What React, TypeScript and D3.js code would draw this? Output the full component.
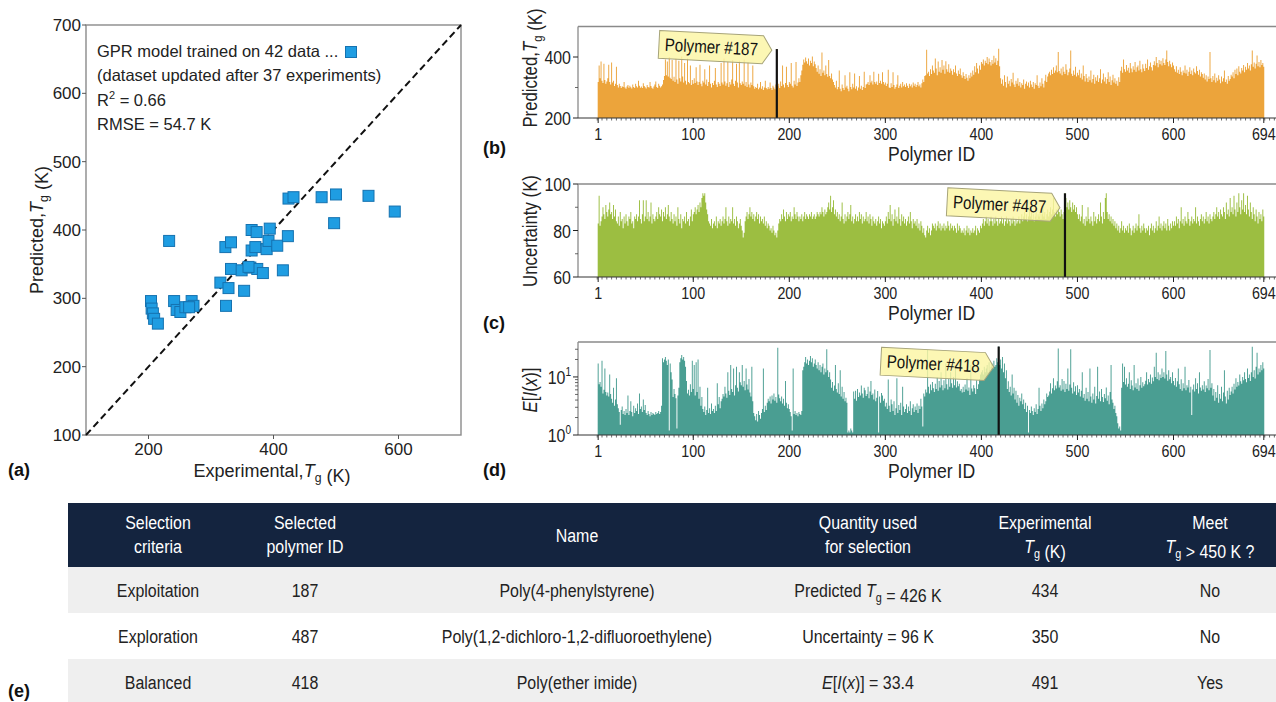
import React from "react";
import * as d3 from "d3";

// (a) parity plot: experimental vs predicted Tg (K)
const expTg = [233, 204, 205, 207, 209, 215, 241, 245, 251, 259, 269, 272, 315, 324, 328, 323, 332, 332, 349, 353, 363, 365, 373, 365, 371, 374, 383, 389, 392, 394, 406, 415, 423, 424, 432, 477, 500, 497, 552, 594, 360, 265];
const predTg = [384, 296, 285, 278, 270, 263, 296, 283, 280, 287, 296, 289, 323, 289, 315, 375, 382, 343, 341, 311, 345, 400, 397, 370, 375, 343, 337, 372, 384, 402, 377, 341, 391, 446, 448, 448, 452, 410, 450, 427, 346, 287];
const parityTicks = [100, 200, 300, 400, 500, 600, 700];
const legendLines = ["GPR model trained on 42 data ...", "(dataset updated after 37 experiments)", "R2 = 0.66", "RMSE = 54.7 K"];

// (b) predicted Tg for polymer 1..694
const predictedTg = [
  318, 372, 330, 385, 322, 315, 378, 325, 312, 320,
  330, 375, 318, 310, 382, 316, 322, 305, 312, 368,
  308, 300, 312, 305, 298, 304, 302, 318, 300, 296,
  303, 308, 299, 306, 301, 297, 310, 302, 298, 312,
  304, 300, 322, 306, 299, 303, 298, 314, 305, 301,
  297, 308, 302, 300, 318, 305, 299, 296, 303, 310,
  320, 302, 298, 312, 306, 300, 304, 310, 325, 338,
  392, 340, 385, 336, 400, 332, 328, 390, 322, 335,
  318, 395, 326, 312, 388, 330, 320, 402, 336, 316,
  380, 322, 310, 395, 318, 314, 372, 308, 325, 312,
  330, 315, 366, 320, 308, 318, 375, 312, 304, 322,
  316, 360, 310, 326, 305, 318, 372, 312, 300, 315,
  308, 322, 364, 310, 302, 318, 312, 305, 380, 316,
  310, 395, 320, 306, 314, 385, 302, 318, 310, 326,
  390, 312, 305, 322, 378, 316, 300, 388, 314, 308,
  320, 312, 392, 306, 318, 302, 384, 310, 300, 316,
  308, 372, 304, 296, 302, 298, 312, 294, 300, 318,
  296, 304, 292, 300, 322, 298, 294, 302, 296, 316,
  298, 292, 306, 300, 294, 310, 426, 304, 312, 298,
  320, 305, 372, 310, 300, 315, 368, 308, 302, 318,
  312, 380, 306, 300, 322, 310, 384, 305, 316, 330,
  318, 340, 356, 375, 392, 382, 398, 386, 378, 395,
  372, 388, 380, 402, 370, 385, 376, 364, 352, 372,
  345, 360, 338, 415, 348, 356, 340, 372, 344, 335,
  390, 338, 330, 346, 326, 318, 308, 300, 322, 294,
  302, 356, 296, 288, 310, 298, 292, 340, 300, 306,
  296, 288, 350, 302, 294, 312, 300, 346, 296, 304,
  290, 300, 338, 296, 306, 292, 302, 352, 298, 310,
  312, 318, 308, 340, 316, 322, 310, 352, 318, 312,
  320, 308, 345, 315, 322, 312, 350, 318, 310, 316,
  305, 312, 358, 300, 298, 314, 302, 350, 308, 296,
  302, 310, 340, 298, 306, 312, 300, 318, 304, 310,
  302, 314, 306, 298, 312, 304, 310, 300, 316, 306,
  312, 302, 308, 318, 304, 310, 300, 314, 326, 318,
  338, 340, 424, 346, 352, 338, 360, 344, 372, 356,
  348, 395, 362, 340, 385, 352, 366, 348, 390, 358,
  372, 345, 386, 360, 352, 376, 348, 362, 355, 342,
  360, 350, 372, 346, 338, 356, 344, 362, 340, 332,
  350, 338, 328, 344, 332, 322, 340, 330, 348, 336,
  356, 342, 370, 350, 380, 362, 346, 372, 358, 384,
  378, 392, 372, 388, 380, 400, 376, 395, 384, 372,
  390, 378, 404, 382, 396, 374, 388, 427, 370, 330,
  312, 326, 306, 340, 318, 300, 336, 312, 322, 304,
  328, 316, 348, 310, 302, 322, 312, 330, 306, 318,
  300, 314, 308, 326, 296, 312, 320, 306, 316, 300,
  322, 310, 302, 318, 296, 314, 308, 340, 306, 298,
  316, 304, 330, 312, 300, 322, 342, 318, 336, 346,
  352, 340, 358, 344, 366, 348, 356, 372, 350, 416,
  354, 346, 362, 340, 368, 352, 344, 376, 358, 340,
  350, 362, 421, 345, 338, 356, 342, 368, 336, 348,
  340, 358, 332, 346, 326, 372, 338, 320, 344, 330,
  318, 336, 324, 356, 316, 328, 342, 312, 334, 322,
  340, 318, 330, 360, 314, 326, 346, 320, 334, 312,
  328, 350, 318, 336, 308, 324, 342, 316, 330, 312,
  322, 306, 334, 318, 355, 368, 348, 392, 360, 352,
  374, 356, 365, 348, 380, 362, 350, 370, 358, 384,
  352, 366, 372, 356, 388, 360, 350, 376, 362, 354,
  378, 364, 392, 358, 370, 382, 366, 356, 374, 386,
  372, 400, 380, 366, 390, 376, 388, 372, 396, 380,
  374, 392, 421, 384, 370, 388, 376, 366, 382, 372,
  360, 352, 370, 348, 358, 344, 366, 352, 340, 356,
  348, 372, 346, 358, 338, 352, 366, 344, 356, 340,
  362, 350, 346, 370, 354, 342, 358, 336, 350, 344,
  332, 346, 326, 340, 320, 336, 328, 416, 330, 318,
  338, 324, 346, 316, 332, 322, 340, 326, 314, 336,
  320, 330, 356, 318, 326, 312, 338, 322, 328, 342,
  336, 350, 330, 358, 344, 362, 340, 370, 352, 346,
  364, 356, 374, 350, 368, 358, 380, 362, 372, 356,
  376, 421, 368, 382, 362, 378, 405, 370, 384, 366,
  390, 374, 380, 368,
];

// (c) uncertainty (K)
const uncertainty = [
  83, 95, 82, 84, 86, 90, 87, 85, 91, 88,
  86, 89, 92, 87, 88, 85, 91, 86, 89, 84,
  83, 86, 82, 88, 84, 85, 81, 86, 83, 87,
  84, 82, 86, 85, 88, 83, 84, 81, 86, 85,
  87, 84, 86, 93, 85, 83, 87, 93, 84, 86,
  93, 85, 88, 84, 86, 92, 83, 87, 85, 84,
  86, 88, 85, 90, 87, 86, 89, 84, 88, 86,
  90, 85, 87, 91, 86, 84, 88, 85, 83, 87,
  84, 86, 82, 90, 85, 83, 87, 81, 85, 84,
  86, 83, 88, 84, 85, 82, 86, 89, 84, 87,
  88, 90, 87, 89, 91, 88, 92, 90, 94, 96,
  95, 96, 92, 89, 87, 84, 83, 82, 85, 81,
  83, 84, 82, 86, 81, 84, 83, 85, 82, 84,
  86, 83, 85, 90, 84, 82, 86, 83, 85, 84,
  90, 83, 85, 82, 86, 84, 81, 83, 85, 82,
  80, 77, 79, 84, 86, 88, 85, 87, 90, 86,
  88, 85, 87, 84, 86, 88, 85, 87, 83, 86,
  84, 85, 83, 86, 82, 84, 81, 83, 82, 80,
  81, 79, 82, 80, 78, 79, 77, 80, 83, 85,
  84, 87, 85, 89, 86, 84, 88, 85, 87, 86,
  88, 84, 86, 85, 90, 87, 85, 88, 86, 84,
  86, 85, 87, 84, 86, 88, 85, 87, 86, 85,
  87, 86, 88, 85, 86, 87, 85, 86, 88, 87,
  86, 88, 87, 90, 88, 86, 89, 87, 88, 90,
  92, 89, 95, 88, 90, 93, 87, 89, 86, 88,
  85, 87, 84, 86, 92, 85, 83, 87, 84, 86,
  88, 85, 87, 91, 84, 86, 83, 85, 87, 84,
  86, 84, 88, 85, 87, 83, 86, 84, 85, 88,
  84, 86, 83, 87, 85, 82, 86, 84, 83, 85,
  82, 84, 86, 83, 85, 81, 84, 83, 82, 84,
  86, 83, 88, 85, 91, 84, 87, 82, 85, 89,
  84, 86, 83, 90, 85, 82, 87, 84, 86, 83,
  85, 82, 84, 86, 83, 88, 84, 81, 85, 83,
  84, 82, 85, 81, 83, 80, 84, 82, 79, 81,
  78, 77, 80, 82, 79, 81, 78, 80, 83, 82,
  81, 83, 80, 82, 84, 81, 83, 80, 82, 81,
  83, 80, 82, 81, 84, 82, 80, 83, 81, 82,
  80, 82, 81, 79, 83, 80, 82, 81, 79, 80,
  79, 81, 78, 80, 82, 79, 81, 78, 80, 79,
  81, 79, 80, 82, 78, 81, 80, 79, 82, 81,
  83, 85, 82, 84, 86, 83, 85, 82, 84, 86,
  84, 82, 85, 83, 86, 84, 82, 85, 83, 84,
  86, 83, 85, 82, 84, 86, 83, 85, 84, 82,
  85, 83, 86, 84, 82, 85, 83, 84, 86, 83,
  85, 87, 84, 86, 88, 85, 87, 84, 86, 89,
  86, 88, 85, 87, 84, 86, 88, 85, 87, 86,
  88, 85, 87, 90, 86, 88, 85, 87, 89, 86,
  88, 90, 87, 89, 94, 88, 86, 89, 87, 90,
  88, 86, 89, 87, 85, 88, 96, 94, 90, 92,
  89, 93, 90, 88, 92, 89, 91, 88, 90, 87,
  85, 87, 84, 86, 91, 83, 85, 82, 86, 84,
  90, 85, 83, 86, 84, 82, 88, 84, 86, 83,
  85, 87, 84, 92, 86, 83, 88, 85, 94, 96,
  88, 85, 87, 84, 86, 83, 85, 82, 84, 81,
  83, 80, 82, 79, 81, 84, 80, 82, 79, 81,
  80, 82, 79, 83, 81, 78, 80, 82, 79, 81,
  83, 80, 82, 87, 81, 79, 82, 80, 83, 81,
  79, 81, 80, 82, 78, 81, 83, 80, 82, 79,
  81, 84, 80, 82, 86, 81, 83, 80, 82, 84,
  81, 83, 80, 85, 82, 80, 83, 81, 84, 82,
  84, 82, 86, 83, 85, 81, 84, 90, 83, 85,
  82, 86, 84, 83, 88, 85, 82, 84, 86, 83,
  85, 84, 90, 83, 86, 84, 82, 85, 87, 84,
  86, 83, 85, 88, 84, 86, 83, 87, 85, 84,
  86, 88, 85, 87, 90, 86, 88, 85, 89, 87,
  86, 90, 88, 85, 92, 87, 89, 86, 94, 88,
  90, 87, 95, 89, 86, 92, 88, 96, 90, 87,
  93, 89, 96, 88, 91, 87, 95, 89, 86, 92,
  88, 85, 90, 87, 84, 89, 86, 83, 88, 85,
  87, 84, 89, 86,
];

// (d) expected improvement E[I(x)] (log scale)
const expImprove = [
  17, 7.5, 8.2, 6.8, 19, 5.2, 6, 14, 5.5, 4.8,
  5.4, 4.6, 11, 5.1, 4.2, 3.6, 6.5, 3.2, 4.1, 9.5,
  3.4, 2.9, 2.5, 1.5, 2.7, 3.1, 2.3, 2.6, 2.2, 2.8,
  2.4, 4.8, 2.2, 2.6, 3.8, 2.5, 2.1, 3.2, 2.4, 2.9,
  2.6, 3.5, 2.3, 5.2, 2.8, 3.1, 2.5, 4.1, 2.7, 3.3,
  2.4, 2.2, 2.6, 2.3, 2.1, 2.5, 2.2, 2.4, 2.3, 2.2,
  2.5, 2.3, 2.4, 2.6, 2.3, 2.5, 3.2, 21, 18, 20,
  22, 19, 16, 20, 1.2, 17, 12, 9, 4.5, 6.2,
  5.1, 4.3, 1.3, 4.8, 6.5, 18, 21, 24, 20, 22,
  19, 15, 8.5, 5.2, 6, 4.8, 7.5, 5.5, 19, 6.2,
  16, 4.8, 18, 5.5, 20, 4.2, 6.8, 3.2, 4.5, 2.8,
  2.5, 3.1, 2.2, 2.7, 6.5, 2.4, 2.9, 2.3, 3.5, 2.6,
  2.8, 2.4, 3.2, 2.6, 7.8, 3.4, 4.5, 2.9, 3.8, 4.2,
  5.1, 4.6, 6.8, 5.2, 4.4, 12, 5.8, 4.9, 16, 6.2,
  5.5, 14, 4.8, 7.2, 15, 6.5, 5.6, 12, 8.1, 7.2,
  16, 6.8, 8.5, 5.9, 14, 7.4, 6.1, 9.2, 5.4, 4.6,
  15, 3.8, 2.4, 2.1, 1.8, 2.3, 1.7, 2.6, 2.2, 1.9,
  2.4, 2.8, 14, 2.5, 3.2, 2.7, 3.6, 4.2, 3.8, 4.6,
  3.5, 4.8, 4.1, 5.2, 3.9, 4.5, 3.6, 32, 5, 4.3,
  3.8, 4.6, 3.5, 4.2, 3.2, 8.5, 3.6, 2.9, 3.4, 2.8,
  2.5, 2.1, 1.2, 14, 2.3, 2.6, 2.2, 2.4, 2.1, 2.5,
  2.3, 2.2, 2.6, 13, 15, 18, 22, 17, 20, 16,
  19, 23, 18, 21, 15, 17, 20, 16, 14, 18,
  13, 16, 12, 15, 17, 11, 14, 12, 30, 13,
  10, 12, 9, 6.5, 8.2, 5.8, 7.1, 16, 6.2, 5.4,
  7.8, 5.1, 13, 4.6, 6.8, 4.2, 5.5, 3.8, 4.4, 3.6,
  1.1, 1.2, 1.1, 1.3, 1.2, 1.1, 5.6, 4.2, 5.8, 3.9,
  6.2, 4.5, 5.4, 4.8, 7.1, 5.2, 4.4, 6.5, 5.9, 4.7,
  5.1, 6.8, 4.3, 5.6, 8.5, 4.9, 5.2, 4.1, 6.1, 3.8,
  4.4, 5.7, 1.1, 4.6, 3.6, 5.3, 4.8, 3.9, 4.2, 3.1,
  3.6, 2.8, 9, 3.2, 2.5, 4.1, 3.4, 2.6, 3.8, 2.2,
  2.9, 9.5, 2.4, 3.3, 2.7, 3.6, 2.2, 6.8, 3.1, 2.5,
  2.8, 3.4, 2.4, 3.1, 2.6, 3.8, 2.2, 2.9, 3.4, 2.5,
  3.1, 2.7, 3.5, 2.4, 3.2, 2.8, 4.2, 3.1, 1.4, 5.2,
  4.6, 6.1, 5.4, 29, 6.8, 5.2, 7.4, 5.9, 8.2, 6.4,
  5.5, 7.6, 6.2, 9.8, 5.8, 8.5, 6.6, 12, 7.2, 5.9,
  8.8, 6.4, 17, 7.5, 6.1, 9.2, 6.8, 12, 7.8, 6.5,
  10, 7.2, 15, 6.6, 8.4, 6.9, 7.6, 5.8, 6.2, 5.4,
  6.8, 5.5, 7.4, 6.1, 9.5, 5.8, 6.6, 4.9, 16, 6.3,
  5.6, 7.2, 6.4, 5.1, 8.8, 6.2, 7.5, 9.2, 11, 12,
  13, 11, 15, 12, 14, 16, 12, 18, 13, 15,
  17, 14, 19, 15, 16, 21, 18, 33.4, 16, 20,
  14, 22, 12, 17, 9.5, 13, 6.2, 8.4, 5.5, 6.8,
  4.8, 11, 5.2, 6.5, 4.1, 5.8, 3.6, 4.9, 3.2, 4.4,
  3.8, 5.2, 3.4, 4.1, 2.8, 3.6, 2.5, 3.2, 1.1, 2.7,
  2.4, 3.1, 2.6, 2.2, 2.9, 2.5, 3.4, 2.3, 2.8, 6.5,
  3.2, 2.6, 3.5, 2.9, 4.1, 3.4, 3.8, 5.2, 4.5, 4.8,
  5.6, 7.8, 5.2, 6.4, 9.5, 5.9, 7.1, 6.3, 8.4, 31,
  6.6, 7.2, 5.8, 9.2, 6.1, 8.5, 5.5, 7.6, 6.2, 14,
  5.8, 7.4, 30, 6.5, 5.2, 8.1, 5.6, 6.9, 4.9, 7.2,
  5.4, 6.2, 4.6, 5.8, 12, 4.4, 5.1, 3.9, 6.5, 4.2,
  5.5, 3.8, 14, 4.6, 3.6, 5.2, 4.1, 6.8, 3.5, 4.7,
  15, 4.2, 5.6, 3.8, 6.2, 4.5, 3.7, 5.1, 4.3, 6.6,
  3.9, 4.8, 3.4, 5.5, 16, 4.1, 3.6, 2.8, 3.2, 2.4,
  2.1, 1.6, 1.3, 1.4, 1.2, 6.5, 17, 8.2, 15, 7.4,
  9.5, 6.8, 7.6, 12, 6.2, 8.8, 7.1, 5.9, 16, 6.6,
  7.8, 6.2, 9.4, 5.8, 7.2, 10, 6.5, 8.1, 6.9, 7.5,
  8.6, 12, 7.4, 9.2, 8.1, 11, 7.6, 9.8, 8.4, 15,
  10, 26, 9.2, 12, 8.8, 11, 9.6, 14, 10, 12,
  9.4, 28, 11, 8.6, 13, 9.1, 10, 7.8, 12, 8.5,
  7.2, 9.6, 6.8, 8.4, 14, 7.5, 6.2, 9.1, 5.8, 7.8,
  6.4, 15, 5.9, 7.2, 6.6, 8.9, 5.4, 6.8, 2.2, 6.1,
  7.4, 5.6, 9.5, 6.2, 7.8, 5.2, 12, 6.6, 5.8, 7.2,
  6.1, 8.4, 5.5, 7.1, 6.4, 9.2, 5.9, 29, 6.5, 7.8,
  4.8, 6.2, 3.9, 5.5, 4.4, 7.2, 3.6, 5.1, 4.2, 6.8,
  3.8, 5.4, 13, 4.6, 3.5, 5.8, 4.1, 6.5, 4.9, 5.6,
  6.8, 5.2, 7.6, 6.1, 9.5, 6.8, 8.2, 7.1, 11, 8.4,
  7.6, 10, 8.8, 12, 9.2, 8.1, 14, 9.6, 11, 8.5,
  12, 33, 10, 13, 9.4, 15, 26, 11, 14, 12,
  16, 13, 18, 14,
];

const idTicks = [1, 100, 200, 300, 400, 500, 600, 694];
const picks = [187, 487, 418];

// (e) table
const tableHead = [["Selection", "criteria"], ["Selected", "polymer ID"], ["Name"], ["Quantity used", "for selection"], ["Experimental", "Tg (K)"], ["Meet", "Tg > 450 K ?"]];
const criteria = ["Exploitation", "Exploration", "Balanced"];
const selectedIds = ["187", "487", "418"];
const names = ["Poly(4-phenylstyrene)", "Poly(1,2-dichloro-1,2-difluoroethylene)", "Poly(ether imide)"];
const quantities = ["Predicted Tg = 426 K", "Uncertainty = 96 K", "E[I(x)] = 33.4"];
const expMeasured = ["434", "350", "491"];
const meets = ["No", "No", "Yes"];

const SANS = "'Liberation Sans', Arial, sans-serif";
const SQUEEZE = 0.84; // the right-hand panels and the table use a condensed face

const xId = d3.scaleLinear().domain([-20, 714]).range([578, 1283]);

const Tg = ({ size }: { size: number }) => (
  <>
    <tspan fontStyle="italic">T</tspan>
    <tspan fontSize={size * 0.68} dy={size * 0.25}>g</tspan>
    <tspan dy={-size * 0.25}>{""}</tspan>
  </>
);

// condensed text: drawn at (x, y), optionally rotated, squeezed along the baseline
const NText = ({
  x, y, size, anchor = "start", rotate = 0, fill = "#222", weight, children,
}: {
  x: number; y: number; size: number; anchor?: string; rotate?: number; fill?: string; weight?: string; children: React.ReactNode;
}) => (
  <text
    transform={`translate(${x},${y}) rotate(${rotate}) scale(${SQUEEZE},1)`}
    textAnchor={anchor}
    fontFamily={SANS}
    fontSize={size}
    fontWeight={weight}
    fill={fill}
  >
    {children}
  </text>
);

const Callout = ({ tipX, tipY, text }: { tipX: number; tipY: number; text: string }) => {
  const w = 113;
  const h = 28;
  return (
    <g transform={`translate(${tipX},${tipY}) rotate(3)`}>
      <path
        d={`M${-w},${-h / 2}H-9L0,0L-9,${h / 2}H${-w}Z`}
        fill="#fbf5a4"
        fillOpacity={0.82}
        stroke="#a7a47a"
        strokeWidth={1}
      />
      <NText x={-w / 2 - 4} y={6} size={18} anchor="middle" fill="#111">{text}</NText>
    </g>
  );
};

type Tick = { v: number; label?: React.ReactNode };

const BarPanel = ({
  values, y, color, pick, tipValue, letter, letterY, yLabel, yLabelY, ticks, minor,
}: {
  values: number[];
  y: any;
  color: string;
  pick: number;
  tipValue: number;
  letter: string;
  letterY: number;
  yLabel: React.ReactNode;
  yLabelY: number;
  ticks: Tick[];
  minor: number[];
}) => {
  const [y0, yTop] = y.range();
  const w = xId(2) - xId(1);
  const d = values
    .map((v, i) => `M${(xId(i + 1) - w / 2).toFixed(2)},${y(v).toFixed(2)}h${w.toFixed(3)}V${y0}h${(-w).toFixed(3)}Z`)
    .join("");
  const minorX = d3.range(0, 715, 5);
  return (
    <g>
      <path d={d} fill={color} />
      <line x1={xId(pick)} x2={xId(pick)} y1={y0} y2={y(values[pick - 1])} stroke="#111" strokeWidth={2.2} />
      <line x1={578} x2={1276} y1={yTop} y2={yTop} stroke="#8a8a8a" strokeWidth={1.3} />
      <line x1={578} x2={578} y1={yTop} y2={y0} stroke="#8a8a8a" strokeWidth={1.3} />
      <line x1={578} x2={1276} y1={y0} y2={y0} stroke="#333" strokeWidth={1} />
      {minorX.map((v) => (
        <line key={v} x1={xId(v)} x2={xId(v)} y1={y0} y2={y0 + 2.5} stroke="#444" strokeWidth={0.8} />
      ))}
      {idTicks.map((v) => (
        <g key={v}>
          <line x1={xId(v)} x2={xId(v)} y1={y0} y2={y0 + 5} stroke="#222" strokeWidth={1} />
          <NText x={xId(v)} y={y0 + 22} size={17} anchor="middle">{v}</NText>
        </g>
      ))}
      {minor.map((v) => (
        <line key={v} x1={575} x2={578} y1={y(v)} y2={y(v)} stroke="#444" strokeWidth={0.8} />
      ))}
      {ticks.map((t) => (
        <g key={t.v}>
          <line x1={573} x2={578} y1={y(t.v)} y2={y(t.v)} stroke="#222" strokeWidth={1} />
          <NText x={571} y={y(t.v) + 7} size={19} anchor="end">{t.label}</NText>
        </g>
      ))}
      <NText x={537} y={yLabelY} size={20} anchor="middle" rotate={-90}>{yLabel}</NText>
      <NText x={888} y={y0 + 43} size={21}>Polymer ID</NText>
      <text x={483} y={letterY} fontFamily={SANS} fontWeight="bold" fontSize={18} fill="#111">
        {letter}
      </text>
      <Callout tipX={xId(pick) - 5} tipY={y(tipValue)} text={`Polymer #${pick}`} />
    </g>
  );
};

const Parity = () => {
  const x = d3.scaleLinear().domain([100, 700]).range([86, 461]);
  const y = d3.scaleLinear().domain([100, 700]).range([435, 25]);
  const s = 11;
  return (
    <g fontFamily={SANS} fill="#222">
      <rect x={86} y={25} width={375} height={410} fill="none" stroke="#8a8a8a" strokeWidth={1.4} />
      <line x1={x(100)} y1={y(100)} x2={x(700)} y2={y(700)} stroke="#111" strokeWidth={2} strokeDasharray="7,4" />
      {expTg.map((v, i) => (
        <rect key={i} x={x(v) - s / 2} y={y(predTg[i]) - s / 2} width={s} height={s} fill="#1f9de2" stroke="#1572b0" strokeWidth={1} />
      ))}
      {parityTicks.map((v) => (
        <g key={v}>
          <line x1={82} x2={86} y1={y(v)} y2={y(v)} stroke="#555" />
          <text x={81} y={y(v) + 6} textAnchor="end" fontSize={17}>{v}</text>
        </g>
      ))}
      {[200, 400, 600].map((v) => (
        <g key={v}>
          <line x1={x(v)} x2={x(v)} y1={435} y2={439} stroke="#555" />
          <text x={x(v)} y={455} textAnchor="middle" fontSize={17}>{v}</text>
        </g>
      ))}
      <text x={97} y={57} fontSize={16.5}>{legendLines[0]}</text>
      <rect x={345.5} y={46.5} width={s} height={s} fill="#1f9de2" stroke="#1572b0" />
      <text x={97} y={81} fontSize={16.5}>{legendLines[1]}</text>
      <text x={97} y={106} fontSize={16.5}>
        R<tspan fontSize={11} dy={-7}>2</tspan><tspan dy={7}>{legendLines[2].slice(2)}</tspan>
      </text>
      <text x={97} y={130} fontSize={16.5}>{legendLines[3]}</text>
      <text transform="translate(43,230) rotate(-90)" textAnchor="middle" fontSize={18}>
        Predicted,<Tg size={18} /> (K)
      </text>
      <text x={272} y={477} textAnchor="middle" fontSize={18}>
        Experimental,<Tg size={18} /> (K)
      </text>
      <text x={8} y={476} fontWeight="bold" fontSize={18} fill="#111">(a)</text>
    </g>
  );
};

const Table = () => {
  const cols = [158, 305, 577, 868, 1045, 1210];
  const left = 68;
  const rowTops = [567, 613, 659];
  const rowH = 46;
  const fs = 19;
  const rows = criteria.map((c, i) => [c, selectedIds[i], names[i], quantities[i], expMeasured[i], meets[i]]);
  const renderCell = (txt: string, size: number) => {
    if (txt.startsWith("Predicted Tg")) {
      return <>Predicted <Tg size={size} /> = 426 K</>;
    }
    if (txt.startsWith("Tg")) {
      return <><Tg size={size} />{txt.slice(2)}</>;
    }
    if (txt.startsWith("E[I(x)]")) {
      return (
        <>
          <tspan fontStyle="italic">E</tspan>[<tspan fontStyle="italic">I</tspan>(<tspan fontStyle="italic">x</tspan>)]{txt.slice(7)}
        </>
      );
    }
    return txt;
  };
  return (
    <g>
      <rect x={left} y={503} width={1276 - left} height={64} fill="#14243f" />
      {rowTops.map((t, i) => (
        <rect key={t} x={left} y={t} width={1276 - left} height={i === 2 ? 702 - t : rowH} fill={i === 1 ? "#ffffff" : "#efefef"} />
      ))}
      {tableHead.map((lines, j) =>
        lines.length === 1 ? (
          <NText key={j} x={cols[j]} y={542} size={fs} anchor="middle" fill="#fff">{lines[0]}</NText>
        ) : (
          <g key={j}>
            <NText x={cols[j]} y={529} size={fs} anchor="middle" fill="#fff">{lines[0]}</NText>
            <NText x={cols[j]} y={553} size={fs} anchor="middle" fill="#fff">{renderCell(lines[1], fs)}</NText>
          </g>
        )
      )}
      {rows.map((r, i) =>
        r.map((c, j) => (
          <NText key={`${i}-${j}`} x={cols[j]} y={rowTops[i] + 30} size={fs} anchor="middle">
            {renderCell(c, fs)}
          </NText>
        ))
      )}
      <text x={8} y={697} fontFamily={SANS} fontWeight="bold" fontSize={18} fill="#111">(e)</text>
    </g>
  );
};

export default function App() {
  const yB = d3.scaleLinear().domain([200, 500]).range([118, 26.5]);
  const yC = d3.scaleLinear().domain([60, 100]).range([277, 184]);
  const yD = d3.scaleLog().domain([1, 40]).range([435, 342]);
  const sup = (e: string) => (
    <>
      10<tspan fontSize={12} dy={-8}>{e}</tspan>
    </>
  );
  const logMinor = [2, 3, 4, 5, 6, 7, 8, 9, 20, 30];
  return (
    <svg width={1276} height={702} style={{ position: "fixed", left: 0, top: 0, background: "#fff" }}>
      <rect width={1276} height={702} fill="#fff" />
      <Parity />
      <BarPanel
        values={predictedTg}
        y={yB}
        color="#eca43b"
        pick={picks[0]}
        tipValue={422}
        letter="(b)"
        letterY={154}
        yLabel={<>Predicted,<Tg size={20} /> (K)</>}
        yLabelY={68}
        ticks={[{ v: 200, label: "200" }, { v: 400, label: "400" }]}
        minor={[300]}
      />
      <BarPanel
        values={uncertainty}
        y={yC}
        color="#9cbe41"
        pick={picks[1]}
        tipValue={89.8}
        letter="(c)"
        letterY={329}
        yLabel="Uncertainty (K)"
        yLabelY={231}
        ticks={[{ v: 60, label: "60" }, { v: 80, label: "80" }, { v: 100, label: "100" }]}
        minor={[70, 90]}
      />
      <BarPanel
        values={expImprove}
        y={yD}
        color="#4a9e92"
        pick={picks[2]}
        tipValue={14.8}
        letter="(d)"
        letterY={476}
        yLabel={
          <>
            <tspan fontStyle="italic">E</tspan>[<tspan fontStyle="italic">I</tspan>(<tspan fontStyle="italic">x</tspan>)]
          </>
        }
        yLabelY={390}
        ticks={[{ v: 1, label: sup("0") }, { v: 10, label: sup("1") }]}
        minor={logMinor}
      />
      <Table />
    </svg>
  );
}
